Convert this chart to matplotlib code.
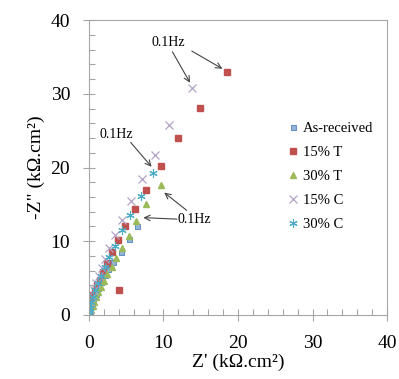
import numpy as np
import matplotlib
matplotlib.use('Agg')
from matplotlib import pyplot as plt
from matplotlib.ticker import MultipleLocator

plt.rcParams['font.family'] = ['Liberation Serif', 'DejaVu Serif']

# Nyquist data, Z' and -Z'' in kOhm.cm2
asrec_x = [0.02, 0.08, 0.2, 0.38, 0.6, 0.9, 1.25, 1.65, 2.1, 2.6, 3.22, 4.3, 5.32, 6.48]
asrec_y = [0.1, 0.4, 0.9, 1.5, 2.2, 2.9, 3.7, 4.5, 5.4, 6.3, 7.2, 8.5, 10.3, 12.1]

t15_x = [0.0, 0.1, 0.5, 0.81, 1.12, 1.5, 1.92, 2.42, 3.09, 3.85, 4.9, 6.17, 7.7, 9.66, 12.0, 14.9, 18.5, 4.07]
t15_y = [0.2, 1.9, 2.7, 3.3, 4.0, 4.8, 5.8, 7.0, 8.5, 10.2, 12.1, 14.4, 17.0, 20.2, 24.0, 28.1, 32.9, 3.35]

t30_x = [0.05, 0.15, 0.3, 0.5, 0.7, 0.95, 1.25, 1.6, 2.0, 2.46, 3.05, 3.66, 4.43, 5.41, 6.35, 7.7, 9.7]
t30_y = [0.1, 0.3, 0.7, 1.2, 1.8, 2.4, 3.1, 3.8, 4.6, 5.5, 6.5, 7.7, 9.1, 10.7, 12.8, 15.0, 17.6]

c15_x = [0.02, 0.08, 0.2, 0.4, 0.65, 0.95, 1.3, 1.7, 2.2, 2.73, 3.49, 4.43, 5.64, 7.07, 8.86, 10.7, 13.8]
c15_y = [0.2, 0.8, 1.6, 2.5, 3.4, 4.3, 5.3, 6.4, 7.6, 9.1, 10.8, 12.9, 15.4, 18.4, 21.7, 25.8, 30.8]

c30_x = [0.01, 0.05, 0.15, 0.3, 0.55, 0.85, 1.2, 1.6, 2.1, 2.73, 3.49, 4.47, 5.5, 6.94, 8.63]
c30_y = [0.1, 0.4, 1.0, 1.7, 2.5, 3.4, 4.3, 5.3, 6.5, 7.8, 9.4, 11.5, 13.6, 16.2, 19.3]

fig = plt.figure(figsize=(3.99, 3.79), dpi=100)
ax = fig.add_axes([0.223, 0.169, 0.747, 0.778])

ax.plot(asrec_x, asrec_y, 's', ms=3.6, mfc='#95b3d7', mec='#4f81bd', mew=0.6, ls='none', label='As-received')
ax.plot(t15_x, t15_y, 's', ms=5, color='#c0504d', ls='none', label='15% T')
ax.plot(t30_x, t30_y, '^', ms=5, color='#9bbb59', ls='none', label='30% T')
ax.plot(c15_x, c15_y, 'x', ms=5.5, color='#b3a2c7', mew=0.9, ls='none', label='15% C')
ax.plot(c30_x, c30_y, marker=(6, 2, 0), ms=6, color='#4bacc6', mew=0.8, ls='none', label='30% C')

arr = dict(arrowstyle='->', color='#444444', lw=0.8, shrinkA=0, shrinkB=0)
ax.text(10.6, 36.9, '0.1Hz', fontsize=10, ha='center', va='center')
ax.annotate('', xy=(13.56, 31.5), xytext=(11.2, 35.7), arrowprops=arr)
ax.annotate('', xy=(17.9, 33.4), xytext=(13.8, 35.8), arrowprops=arr)
ax.text(3.7, 24.5, '0.1Hz', fontsize=10, ha='center', va='center')
ax.annotate('', xy=(8.4, 20.1), xytext=(5.6, 23.4), arrowprops=arr)
ax.text(14.2, 12.9, '0.1Hz', fontsize=10, ha='center', va='center')
ax.annotate('', xy=(7.3, 13.2), xytext=(11.8, 13.0), arrowprops=arr)
ax.annotate('', xy=(10.1, 16.6), xytext=(13.1, 14.2), arrowprops=arr)

ax.set_xlim(0, 40)
ax.set_ylim(0, 40)
ax.xaxis.set_major_locator(MultipleLocator(10))
ax.yaxis.set_major_locator(MultipleLocator(10))
ax.xaxis.set_minor_locator(MultipleLocator(2))
ax.yaxis.set_minor_locator(MultipleLocator(2))
ax.tick_params(which='major', direction='inout', length=9, width=0.8, color='#a6a6a6', labelsize=14)
ax.tick_params(axis='x', which='major', pad=10)
ax.tick_params(axis='y', which='major', pad=9)
ax.tick_params(which='minor', direction='in', length=4, width=0.8, color='#a6a6a6')
for s in ax.spines.values():
    s.set_color('#a6a6a6')
    s.set_linewidth(0.8)

ax.set_xlabel("Z' (k\u03a9.cm\u00b2)", fontsize=14, labelpad=1)
ax.set_ylabel('-Z" (k\u03a9.cm\u00b2)', fontsize=14, labelpad=4)

ax.legend(loc='center left', bbox_to_anchor=(0.65, 0.47), frameon=False, fontsize=10.5,
          handlelength=0.6, handletextpad=0.4, labelspacing=0.75, borderaxespad=0)

fig.savefig('out.png', dpi=100)
